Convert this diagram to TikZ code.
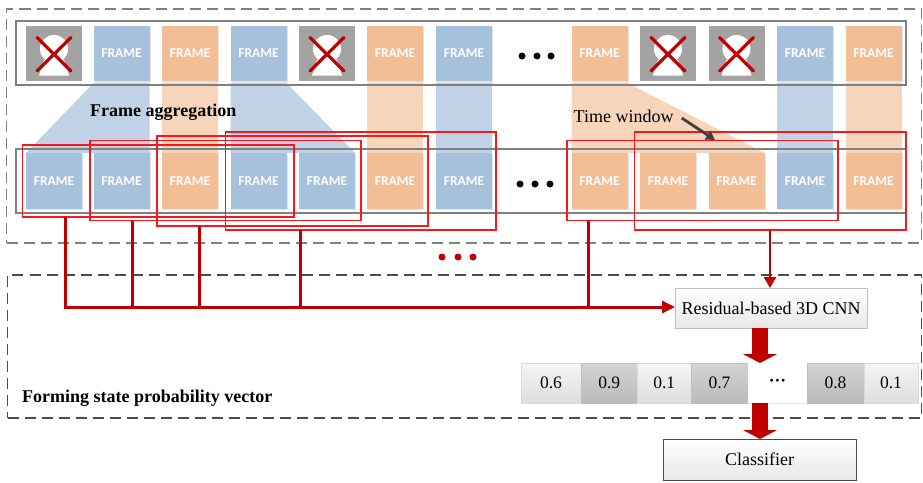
\documentclass[tikz,border=0pt]{standalone}
\usepackage{fontspec}
\setmainfont{Liberation Serif}
\newfontfamily\framefont{Carlito}
\usetikzlibrary{arrows.meta}
\definecolor{fblue}{HTML}{A5C1DC}
\definecolor{forange}{HTML}{F2BE95}
\definecolor{bandblue}{HTML}{C0D3E6}
\definecolor{bandorange}{HTML}{F6D5BA}
\definecolor{camgray}{HTML}{A3A3A3}
\definecolor{darkred}{HTML}{C00000}
\definecolor{rowgray}{HTML}{808080}
\definecolor{softshadow}{HTML}{E4E4E4}
\definecolor{winred}{HTML}{F8181C}
\tikzset{
  softdrop/.style={preaction={fill=softshadow,draw=none,transform canvas={shift={(1.3pt,-1.3pt)}}}},
  framebox/.style={minimum width=56pt,minimum height=55.5pt,inner sep=0pt,outer sep=0pt,text=white,
    font=\framefont\bfseries\fontsize{13.5}{13.5}\selectfont,softdrop},
  cambox/.style={minimum width=56pt,minimum height=55.5pt,inner sep=0pt,outer sep=0pt,fill=camgray},
  rowbox/.style={draw=rowgray,line width=2pt,inner sep=0pt,outer sep=0pt,minimum width=890pt,minimum height=64pt},
  win/.style={inner sep=0pt,outer sep=0pt},
  winline/.style={draw=winred,line width=1.5pt},
  region/.style={draw=#1,dash pattern=on 11pt off 6pt},
  bus/.style={draw=darkred,line width=3pt},
  block/.style={draw=darkred,line width=16pt,-{Triangle[width=34pt,length=9pt]}},
  whitebox/.style={draw=black!25,inner sep=0pt,outer sep=0pt,top color=white,bottom color=black!9,
    font=\fontsize{18}{18}\selectfont},
  lightcell/.style={draw=black!15,inner sep=0pt,outer sep=0pt,top color=black!4,bottom color=black!13,minimum height=40pt,font=\fontsize{17.5}{17.5}\selectfont},
  darkcell/.style={draw=black!25,inner sep=0pt,outer sep=0pt,top color=black!17,bottom color=black!27,minimum height=40pt,font=\fontsize{17.5}{17.5}\selectfont},
  whitecell/.style={inner sep=0pt,outer sep=0pt,fill=white,minimum height=40pt,font=\bfseries\fontsize{17.5}{17.5}\selectfont},
  blackdot/.style={circle,fill=black,inner sep=0pt,minimum size=7pt},
  reddot/.style={circle,fill=darkred,inner sep=0pt,minimum size=7pt},
  title/.style={font=\bfseries\fontsize{18}{18}\selectfont,anchor=west,inner sep=0pt},
}
\begin{document}
\begin{tikzpicture}[x=1pt,y=-1pt]
\useasboundingbox (0,0) rectangle (923,482);
% dashed regions
\node[region={rowgray},line width=1.8pt,inner sep=0pt,minimum width=915pt,minimum height=234pt] (topregion) at (464,126) {};
\node[region={black!70},line width=1.2pt,inner sep=0pt,minimum width=914pt,minimum height=143pt] (botregion) at (464.5,346.5) {};
\foreach \n/\cx in {1/54,2/121.5,3/190,4/258.5,5/327,6/395,7/464,8/599.5,9/668,10/736.5,11/805,12/873.5}{
  \coordinate (ta\n) at (\cx-28,83);
  \coordinate (tb\n) at (\cx+28,83);
  \coordinate (ba\n) at (\cx-28,153);
  \coordinate (bb\n) at (\cx+28,153);
}
% bands
\fill[bandblue] (ta2) -- (tb2) -- (bb2) -- (ba1) -- cycle;
\fill[bandorange] (ta3) -- (tb3) -- (bb3) -- (ba3) -- cycle;
\fill[bandblue] (ta4) -- (tb4) -- (bb5) -- (ba4) -- cycle;
\fill[bandorange] (ta6) -- (tb6) -- (bb6) -- (ba6) -- cycle;
\fill[bandblue] (ta7) -- (tb7) -- (bb7) -- (ba7) -- cycle;
\fill[bandorange] (ta8) -- (tb8) -- (bb10) -- (ba8) -- cycle;
\fill[bandblue] (ta11) -- (tb11) -- (bb11) -- (ba11) -- cycle;
\fill[bandorange] (ta12) -- (tb12) -- (bb12) -- (ba12) -- cycle;
% row boxes
\node[rowbox] (toprow) at (460.5,53.25) {};
\node[rowbox] (botrow) at (460.5,181.25) {};
% top row frames
\foreach \n/\cx/\c in {2/121.5/fblue,3/190/forange,4/258.5/fblue,6/395/forange,7/464/fblue,8/599.5/forange,11/805/fblue,12/873.5/forange}{
  \node[framebox,fill=\c] (t\n) at (\cx,53.5) {FRAME};
}
% camera frames
\foreach \n/\cx in {1/54,5/327,9/668,10/736.5}{
  \node[cambox] (t\n) at (\cx,53.5) {};
  \fill[white] (\cx,49) circle (14pt);
  \fill[white] (\cx-10,60) -- (\cx+10,60) -- (\cx+15,75.5) -- (\cx-15,75.5) -- cycle;
  \draw[darkred,line width=3.2pt,line cap=round] (\cx-17,37.5) -- (\cx+17,71);
  \draw[darkred,line width=3.2pt,line cap=round] (\cx+17,37.5) -- (\cx-17,71);
}
% bottom row frames
\foreach \n/\cx/\c in {1/54/fblue,2/121.5/fblue,3/190/forange,4/258.5/fblue,5/327/fblue,6/395/forange,7/464/fblue,8/599.5/forange,9/668/forange,10/736.5/forange,11/805/fblue,12/873.5/forange}{
  \node[framebox,fill=\c] (b\n) at (\cx,181) {FRAME};
}
% ellipses
\foreach \n/\x in {1/522,2/537,3/551}{\node[blackdot] (td\n) at (\x,56) {};}
\foreach \n/\x in {1/520,2/535,3/550}{\node[blackdot] (bd\n) at (\x,184) {};}
\foreach \n/\x in {1/442,2/458,3/473}{\node[reddot] (rd\n) at (\x,257) {};}
% time windows
\node[win,minimum width=271.5pt,minimum height=72pt] (w1) at (158.25,181) {};
\node[win,minimum width=271pt,minimum height=80pt] (w2) at (225.5,180.5) {};
\node[win,minimum width=271pt,minimum height=90pt] (w3) at (292.5,181) {};
\node[win,minimum width=270.5pt,minimum height=98pt] (w4) at (360.75,181) {};
\node[win,minimum width=271pt,minimum height=80pt] (w5) at (702.5,180.5) {};
\node[win,minimum width=271.5pt,minimum height=98pt] (w6) at (770.25,181) {};
\foreach \w in {w1,w2,w3,w4,w5,w6}{
  \draw[winline] (\w.north west) -- (\w.north east) -- (\w.south east) -- (\w.south west) -- cycle;
}
% labels
\node[title] (aggr) at (90,112) {Frame aggregation};
\node[title] (form) at (22,398.5) {Forming state probability vector};
\node[anchor=west,inner sep=0pt,font=\fontsize{18}{18}\selectfont] (tw) at (573.5,116) {Time window};
\coordinate (twtip) at (715,140);
\draw[black!75,line width=2.8pt,-{Triangle[width=10pt,length=9pt]}] (tw.east)++(8,2) -- (twtip);
% lower boxes
\node[whitebox,softdrop,minimum width=192pt,minimum height=40pt] (cnn) at (771,308) {Residual-based 3D CNN};
\node[whitebox,softdrop,draw=black!70,minimum width=193pt,minimum height=41pt] (clf) at (759.5,459.5) {Classifier};
% vector
\node[lightcell,softdrop,minimum width=60pt] (c1) at (551,383) {0.6};
\node[darkcell,softdrop,minimum width=56.5pt] (c2) at (609.25,383) {0.9};
\node[lightcell,softdrop,minimum width=53.5pt] (c3) at (664.25,383) {0.1};
\node[darkcell,softdrop,minimum width=57pt] (c4) at (719.5,383) {0.7};
\node[whitecell,softdrop,minimum width=59pt] (c5) at (777.5,383) {···};
\node[darkcell,softdrop,minimum width=57pt] (c6) at (835.5,383) {0.8};
\node[lightcell,softdrop,minimum width=54pt] (c7) at (891,383) {0.1};
% connectors
\coordinate (b1) at (65,307);
\coordinate (b2) at (132,307);
\coordinate (b3) at (199,307);
\coordinate (b4) at (300,307);
\coordinate (b5) at (588,307);
\coordinate (w6drop) at (770,230);
\coordinate (blk) at (760,340);
\draw[bus] (w1.south -| b1) -- (b1);
\draw[bus] (w2.south -| b2) -- (b2);
\draw[bus] (w3.south -| b3) -- (b3);
\draw[bus] (w4.south -| b4) -- (b4);
\draw[bus] (w5.south -| b5) -- (b5);
\draw[bus,-{Triangle[width=12pt,length=13pt]}] ([xshift=-1.5pt]b1) -- (cnn.west |- b1);
\draw[draw=darkred,line width=2.5pt,-{Triangle[width=12pt,length=11pt]}] (w6drop) -- (cnn.north -| w6drop);
\draw[block] (cnn.south -| blk) -- (c4.north -| blk);
\draw[block] (c4.south -| blk) -- (clf.north -| blk);
\end{tikzpicture}
\end{document}
